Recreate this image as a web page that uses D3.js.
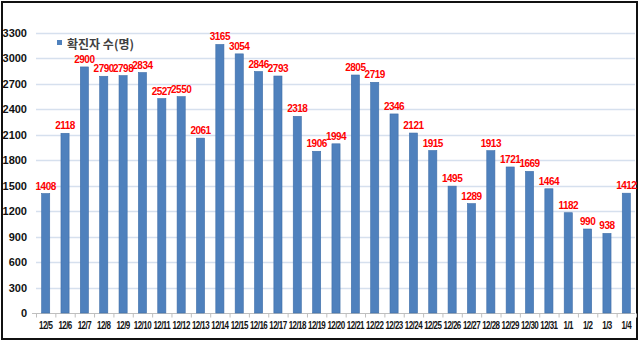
<!DOCTYPE html>
<html>
<head>
<meta charset="utf-8">
<script src="https://cdn.jsdelivr.net/npm/d3@7"></script>
<style>
  html, body { margin: 0; padding: 0; background: #fff; }
  svg { display: block; }
</style>
</head>
<body>
<svg id="chart" width="640" height="342"></svg>
<script>
// Daily confirmed cases, 12/5 to 1/4
const dates = ["12/5","12/6","12/7","12/8","12/9","12/10","12/11","12/12","12/13","12/14",
  "12/15","12/16","12/17","12/18","12/19","12/20","12/21","12/22","12/23","12/24",
  "12/25","12/26","12/27","12/28","12/29","12/30","12/31","1/1","1/2","1/3","1/4"];
const cases = [1408,2118,2900,2790,2798,2834,2527,2550,2061,3165,
  3054,2846,2793,2318,1906,1994,2805,2719,2346,2121,
  1915,1495,1289,1913,1721,1669,1464,1182,990,938,1412];
const yTicks = [0,300,600,900,1200,1500,1800,2100,2400,2700,3000,3300];
const seriesName = "확진자 수(명)";

const svg = d3.select("#chart");
const plotLeft = 36, plotRight = 636, plotTop = 33, plotBottom = 313;

// Outer frame
svg.append("rect")
  .attr("x", 2).attr("y", 2).attr("width", 635).attr("height", 337)
  .attr("fill", "#fff").attr("stroke", "#111").attr("stroke-width", 2);

const x = d3.scaleBand().domain(dates).range([plotLeft, plotRight]).paddingInner(0.58).paddingOuter(0.29);
const y = d3.scaleLinear().domain([0, 3300]).range([plotBottom, plotTop]);

// Gridlines
svg.append("g")
  .selectAll("line")
  .data(yTicks.filter(d => d > 0))
  .join("line")
  .attr("x1", plotLeft).attr("x2", plotRight - 1)
  .attr("y1", d => Math.round(y(d)) + 0.5).attr("y2", d => Math.round(y(d)) + 0.5)
  .attr("stroke", "#d6e0ee").attr("stroke-width", 1.3);

// Y axis labels
const yAxis = d3.axisLeft(y).tickValues(yTicks).tickFormat(d3.format("d")).tickSize(0).tickPadding(0);
const gy = svg.append("g").attr("transform", "translate(27,0)").call(yAxis);
gy.select(".domain").remove();
gy.selectAll("text")
  .attr("font-family", "Liberation Sans, Arial, sans-serif")
  .attr("font-size", 11).attr("font-weight", "bold").attr("fill", "#111");

// X axis line with category separators
const gx = svg.append("g").attr("transform", `translate(0,${plotBottom + 0.5})`);
gx.append("line").attr("x1", plotLeft - 4).attr("x2", plotRight - 1)
  .attr("stroke", "#bfbfbf").attr("stroke-width", 1);
gx.selectAll("line.sep")
  .data(d3.range(dates.length + 1))
  .join("line").attr("class", "sep")
  .attr("x1", i => plotLeft + i * x.step() + 0.5)
  .attr("x2", i => plotLeft + i * x.step() + 0.5)
  .attr("y1", 0).attr("y2", 4)
  .attr("stroke", "#bfbfbf");
// Category labels, horizontally condensed to fit the narrow bands
gx.selectAll("text")
  .data(dates)
  .join("text")
  .attr("transform", d => `translate(${x(d) + x.bandwidth() / 2},15) scale(0.8,1)`)
  .attr("text-anchor", "middle")
  .attr("font-family", "Liberation Sans, Arial, sans-serif")
  .attr("font-size", 10).attr("font-weight", "bold").attr("letter-spacing", -0.7)
  .attr("fill", "#111")
  .text(d => d);

// Bars
svg.append("g")
  .selectAll("rect")
  .data(cases)
  .join("rect")
  .attr("x", (d, i) => x(dates[i]))
  .attr("y", d => y(d))
  .attr("width", x.bandwidth())
  .attr("height", d => plotBottom - y(d))
  .attr("fill", "#4f81bd")
  .attr("stroke", "#3f6ea8").attr("stroke-width", 0.6);

// Value labels
svg.append("g")
  .selectAll("text")
  .data(cases)
  .join("text")
  .attr("x", (d, i) => x(dates[i]) + x.bandwidth() / 2)
  .attr("y", d => y(d) - 4)
  .attr("text-anchor", "middle")
  .attr("font-family", "Liberation Sans, Arial, sans-serif")
  .attr("font-size", 10).attr("font-weight", "bold").attr("letter-spacing", -0.5)
  .attr("fill", "#ff0000")
  .text(d => d);

// Legend
const lg = svg.append("g").attr("transform", "translate(57,40)");
lg.append("rect").attr("width", 5).attr("height", 5).attr("fill", "#4f81bd");
lg.append("text").attr("x", 10).attr("y", 8.5)
  .attr("font-family", "Noto Sans CJK KR, sans-serif")
  .attr("font-size", 12).attr("font-weight", 700).attr("fill", "#404040")
  .text(seriesName);
</script>
</body>
</html>
